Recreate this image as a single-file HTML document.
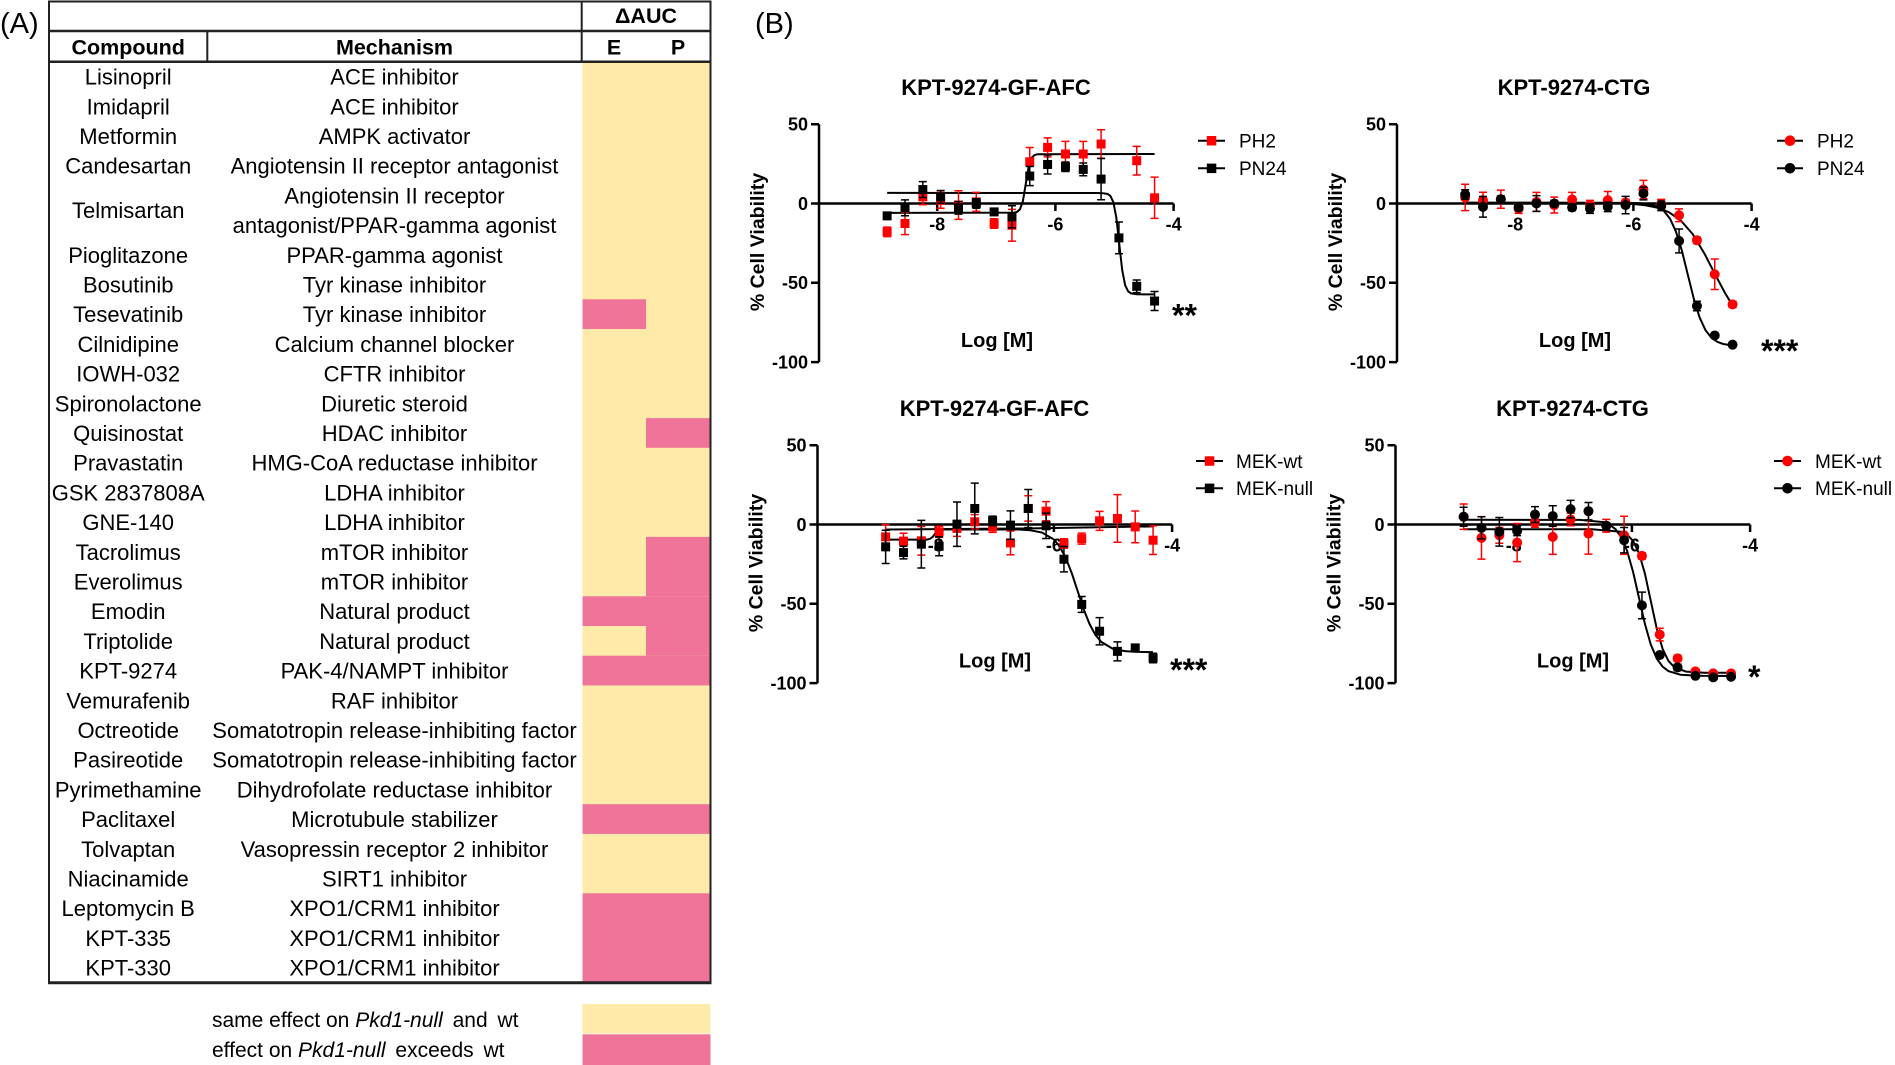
<!DOCTYPE html>
<html><head><meta charset="utf-8"><style>
html,body{margin:0;padding:0;background:#fff;}
svg{display:block;font-family:"Liberation Sans",Arial,sans-serif;}
.d path{vector-effect:non-scaling-stroke;fill:none;}
.d use{stroke:none;}
.cv{stroke:#000;stroke-width:2;stroke-linejoin:round;}
</style></head><body>
<svg width="1895" height="1065" viewBox="0 0 1895 1065" xmlns="http://www.w3.org/2000/svg">
<defs>
<rect id="sq" x="-0.0761" y="-2.84" width="0.1522" height="5.68"/>
<ellipse id="ci" rx="0.0846" ry="3.153"/>
</defs>

<!-- ================= PANEL A ================= -->
<text x="0" y="33" font-size="29">(A)</text>
<text x="755" y="33" font-size="29">(B)</text>

<rect x="582.5" y="61.7" width="127.5" height="920.7" fill="#FFEAAA"/>
<g fill="#F07399">
<rect x="582.5" y="299.3" width="63.5" height="29.7"/>
<rect x="646" y="418.1" width="64" height="29.7"/>
<rect x="646" y="536.9" width="64" height="59.4"/>
<rect x="582.5" y="596.3" width="127.5" height="29.7"/>
<rect x="646" y="626" width="64" height="29.7"/>
<rect x="582.5" y="655.7" width="127.5" height="29.7"/>
<rect x="582.5" y="804.2" width="127.5" height="29.7"/>
<rect x="582.5" y="893.3" width="127.5" height="89.1"/>
</g>

<g stroke="#222" fill="none">
<path d="M48 1.5H711" stroke-width="2"/>
<path d="M49 0.5V983.5M710.5 0.5V983.5" stroke-width="2"/>
<path d="M49 31H711M49 61.7H711" stroke-width="2.5"/>
<path d="M207.3 31V61.7M581.7 0.5V61.7" stroke-width="2"/>
<path d="M48 982.8H711.5" stroke-width="3"/>
</g>

<g font-size="21.5" font-weight="bold" text-anchor="middle">
<text x="646" y="23">ΔAUC</text>
<text x="128.2" y="54.5">Compound</text>
<text x="394.5" y="54.5">Mechanism</text>
<text x="614" y="54.5">E</text>
<text x="678" y="54.5">P</text>
</g>

<g font-size="22" text-anchor="middle">
<text x="128.2" y="84.6">Lisinopril</text><text x="394.5" y="84.6">ACE inhibitor</text>
<text x="128.2" y="114.3">Imidapril</text><text x="394.5" y="114.3">ACE inhibitor</text>
<text x="128.2" y="144">Metformin</text><text x="394.5" y="144">AMPK activator</text>
<text x="128.2" y="173.7">Candesartan</text><text x="394.5" y="173.7">Angiotensin II receptor antagonist</text>
<text x="128.2" y="218.2">Telmisartan</text><text x="394.5" y="203.4">Angiotensin II receptor</text><text x="394.5" y="233.1">antagonist/PPAR-gamma agonist</text>
<text x="128.2" y="262.8">Pioglitazone</text><text x="394.5" y="262.8">PPAR-gamma agonist</text>
<text x="128.2" y="292.5">Bosutinib</text><text x="394.5" y="292.5">Tyr kinase inhibitor</text>
<text x="128.2" y="322.2">Tesevatinib</text><text x="394.5" y="322.2">Tyr kinase inhibitor</text>
<text x="128.2" y="351.9">Cilnidipine</text><text x="394.5" y="351.9">Calcium channel blocker</text>
<text x="128.2" y="381.6">IOWH-032</text><text x="394.5" y="381.6">CFTR inhibitor</text>
<text x="128.2" y="411.3">Spironolactone</text><text x="394.5" y="411.3">Diuretic steroid</text>
<text x="128.2" y="441">Quisinostat</text><text x="394.5" y="441">HDAC inhibitor</text>
<text x="128.2" y="470.7">Pravastatin</text><text x="394.5" y="470.7">HMG-CoA reductase inhibitor</text>
<text x="128.2" y="500.4">GSK 2837808A</text><text x="394.5" y="500.4">LDHA inhibitor</text>
<text x="128.2" y="530.1">GNE-140</text><text x="394.5" y="530.1">LDHA inhibitor</text>
<text x="128.2" y="559.8">Tacrolimus</text><text x="394.5" y="559.8">mTOR inhibitor</text>
<text x="128.2" y="589.5">Everolimus</text><text x="394.5" y="589.5">mTOR inhibitor</text>
<text x="128.2" y="619.2">Emodin</text><text x="394.5" y="619.2">Natural product</text>
<text x="128.2" y="648.9">Triptolide</text><text x="394.5" y="648.9">Natural product</text>
<text x="128.2" y="678.6">KPT-9274</text><text x="394.5" y="678.6">PAK-4/NAMPT inhibitor</text>
<text x="128.2" y="708.3">Vemurafenib</text><text x="394.5" y="708.3">RAF inhibitor</text>
<text x="128.2" y="738">Octreotide</text><text x="394.5" y="738">Somatotropin release-inhibiting factor</text>
<text x="128.2" y="767.7">Pasireotide</text><text x="394.5" y="767.7">Somatotropin release-inhibiting factor</text>
<text x="128.2" y="797.4">Pyrimethamine</text><text x="394.5" y="797.4">Dihydrofolate reductase inhibitor</text>
<text x="128.2" y="827.1">Paclitaxel</text><text x="394.5" y="827.1">Microtubule stabilizer</text>
<text x="128.2" y="856.8">Tolvaptan</text><text x="394.5" y="856.8">Vasopressin receptor 2 inhibitor</text>
<text x="128.2" y="886.5">Niacinamide</text><text x="394.5" y="886.5">SIRT1 inhibitor</text>
<text x="128.2" y="916.2">Leptomycin B</text><text x="394.5" y="916.2">XPO1/CRM1 inhibitor</text>
<text x="128.2" y="945.9">KPT-335</text><text x="394.5" y="945.9">XPO1/CRM1 inhibitor</text>
<text x="128.2" y="975.6">KPT-330</text><text x="394.5" y="975.6">XPO1/CRM1 inhibitor</text>
</g>

<rect x="582.5" y="1004" width="128" height="29.5" fill="#FFEAAA"/>
<rect x="582.5" y="1034.3" width="128" height="30.7" fill="#F07399"/>
<g font-size="21">
<text x="212" y="1027">same effect on <tspan font-style="italic">Pkd1-null</tspan><tspan dx="4"> and</tspan><tspan dx="4"> wt</tspan></text>
<text x="212" y="1057">effect on <tspan font-style="italic">Pkd1-null</tspan><tspan dx="4"> exceeds</tspan><tspan dx="4"> wt</tspan></text>
</g>

<!-- ================= CHART 1 ================= -->
<g stroke="#000" stroke-width="2.5" fill="none">
<path d="M819 124.2V362.1M811 124.2H819M811 203.5H819M811 282.8H819M811 362.1H819M819 203.5H1173.6M937.2 203.5V211M1055.4 203.5V211M1173.6 203.5V211"/>
</g>
<g font-weight="bold" font-size="18" text-anchor="end">
<text x="808" y="130.5">50</text><text x="808" y="209.8">0</text><text x="808" y="289.1">-50</text><text x="808" y="368.4">-100</text>
</g>
<g font-weight="bold" font-size="18" text-anchor="middle">
<text x="937.2" y="230.5">-8</text><text x="1055.4" y="230.5">-6</text><text x="1173.6" y="230.5">-4</text>
</g>
<text x="996" y="95" font-size="22" font-weight="bold" text-anchor="middle">KPT-9274-GF-AFC</text>
<text transform="translate(757,242) rotate(-90)" dy="7" font-size="19.5" font-weight="bold" text-anchor="middle">% Cell Viability</text>
<text x="997" y="347" font-size="20" font-weight="bold" text-anchor="middle">Log [M]</text>
<text x="1172" y="326.4" font-size="32" font-weight="bold">**</text>

<g class="d" transform="translate(1410,203.5) scale(59.1,-1.586)">
<path class="cv" d="M-8.847,-5.9L-6.7,-5.75L-6.65,-5.32L-6.6,-3.7L-6.55,1.55L-6.5,12.65L-6.45,23.75L-6.4,29L-6.35,30.6L-6.3,31.05L-4.322,31.2"/>
<path class="cv" d="M-8.847,6.7L-5.3,6.6L-5.2,6.5L-5.12,6.07L-5.07,4.74L-5.02,0.88L-4.97,-8.67L-4.92,-25.3L-4.87,-41.92L-4.82,-51.48L-4.77,-55.34L-4.72,-56.67L-4.62,-57.24L-4.322,-57.3"/>
<g stroke="#f00" fill="#f00" stroke-width="1.5">
<g transform="translate(-8.847,-17.9)"><path d="M0-3V3M-.068-3H.068M-.068 3H.068"/><use href="#sq"/></g>
<g transform="translate(-8.545,-12.6)"><path d="M0-7V7M-.068-7H.068M-.068 7H.068"/><use href="#sq"/></g>
<g transform="translate(-8.243,4.2)"><path d="M0-5V5M-.068-5H.068M-.068 5H.068"/><use href="#sq"/></g>
<g transform="translate(-7.942,2)"><path d="M0-5V5M-.068-5H.068M-.068 5H.068"/><use href="#sq"/></g>
<g transform="translate(-7.640,-1)"><path d="M0-9V9M-.068-9H.068M-.068 9H.068"/><use href="#sq"/></g>
<g transform="translate(-7.339,1)"><path d="M0-6V6M-.068-6H.068M-.068 6H.068"/><use href="#sq"/></g>
<g transform="translate(-7.037,-12.6)"><path d="M0-3V3M-.068-3H.068M-.068 3H.068"/><use href="#sq"/></g>
<g transform="translate(-6.735,-13.7)"><path d="M0-10V10M-.068-10H.068M-.068 10H.068"/><use href="#sq"/></g>
<g transform="translate(-6.434,26.3)"><path d="M0-9V9M-.068-9H.068M-.068 9H.068"/><use href="#sq"/></g>
<g transform="translate(-6.132,35.4)"><path d="M0-6V6M-.068-6H.068M-.068 6H.068"/><use href="#sq"/></g>
<g transform="translate(-5.830,31.2)"><path d="M0-8V8M-.068-8H.068M-.068 8H.068"/><use href="#sq"/></g>
<g transform="translate(-5.529,31.2)"><path d="M0-8V8M-.068-8H.068M-.068 8H.068"/><use href="#sq"/></g>
<g transform="translate(-5.227,37.5)"><path d="M0-9V9M-.068-9H.068M-.068 9H.068"/><use href="#sq"/></g>
<g transform="translate(-4.624,27)"><path d="M0-9V9M-.068-9H.068M-.068 9H.068"/><use href="#sq"/></g>
<g transform="translate(-4.322,3.6)"><path d="M0-13V13M-.068-13H.068M-.068 13H.068"/><use href="#sq"/></g>
</g>
<g stroke="#000" fill="#000" stroke-width="1.5">
<g transform="translate(-8.847,-7.8)"><path d="M0-2V2M-.068-2H.068M-.068 2H.068"/><use href="#sq"/></g>
<g transform="translate(-8.545,-2.7)"><path d="M0-5V5M-.068-5H.068M-.068 5H.068"/><use href="#sq"/></g>
<g transform="translate(-8.243,8.8)"><path d="M0-5V5M-.068-5H.068M-.068 5H.068"/><use href="#sq"/></g>
<g transform="translate(-7.942,4.2)"><path d="M0-4V4M-.068-4H.068M-.068 4H.068"/><use href="#sq"/></g>
<g transform="translate(-7.640,-2.7)"><path d="M0-4V4M-.068-4H.068M-.068 4H.068"/><use href="#sq"/></g>
<g transform="translate(-7.339,0)"><path d="M0-3V3M-.068-3H.068M-.068 3H.068"/><use href="#sq"/></g>
<g transform="translate(-7.037,-5.3)"><path d="M0-2V2M-.068-2H.068M-.068 2H.068"/><use href="#sq"/></g>
<g transform="translate(-6.735,-8.4)"><path d="M0-7V7M-.068-7H.068M-.068 7H.068"/><use href="#sq"/></g>
<g transform="translate(-6.434,17.3)"><path d="M0-6V6M-.068-6H.068M-.068 6H.068"/><use href="#sq"/></g>
<g transform="translate(-6.132,24.6)"><path d="M0-6V6M-.068-6H.068M-.068 6H.068"/><use href="#sq"/></g>
<g transform="translate(-5.830,23.2)"><path d="M0-3V3M-.068-3H.068M-.068 3H.068"/><use href="#sq"/></g>
<g transform="translate(-5.529,21.5)"><path d="M0-4V4M-.068-4H.068M-.068 4H.068"/><use href="#sq"/></g>
<g transform="translate(-5.227,15.4)"><path d="M0-13V13M-.068-13H.068M-.068 13H.068"/><use href="#sq"/></g>
<g transform="translate(-4.925,-21.7)"><path d="M0-10V10M-.068-10H.068M-.068 10H.068"/><use href="#sq"/></g>
<g transform="translate(-4.624,-52.2)"><path d="M0-4V4M-.068-4H.068M-.068 4H.068"/><use href="#sq"/></g>
<g transform="translate(-4.322,-61.5)"><path d="M0-6V6M-.068-6H.068M-.068 6H.068"/><use href="#sq"/></g>
</g>
</g>

<path d="M1198 140.7H1225M1198 168.3H1225" stroke="#000" stroke-width="2"/>
<rect x="1206.8" y="136" width="9.5" height="9.5" fill="#f00"/>
<rect x="1206.8" y="163.6" width="9.5" height="9.5" fill="#000"/>
<text x="1239" y="147.5" font-size="19">PH2</text>
<text x="1239" y="175.1" font-size="19">PN24</text>

<!-- ================= CHART 2 ================= -->
<g stroke="#000" stroke-width="2.5" fill="none">
<path d="M1397 124.2V362.1M1389 124.2H1397M1389 203.5H1397M1389 282.8H1397M1389 362.1H1397M1397 203.5H1751.6M1515.2 203.5V211M1633.4 203.5V211M1751.6 203.5V211"/>
</g>
<g font-weight="bold" font-size="18" text-anchor="end">
<text x="1386" y="130.5">50</text><text x="1386" y="209.8">0</text><text x="1386" y="289.1">-50</text><text x="1386" y="368.4">-100</text>
</g>
<g font-weight="bold" font-size="18" text-anchor="middle">
<text x="1515.2" y="230.5">-8</text><text x="1633.4" y="230.5">-6</text><text x="1751.6" y="230.5">-4</text>
</g>
<text x="1574" y="95" font-size="22" font-weight="bold" text-anchor="middle">KPT-9274-CTG</text>
<text transform="translate(1335,242) rotate(-90)" dy="7" font-size="19.5" font-weight="bold" text-anchor="middle">% Cell Viability</text>
<text x="1575" y="347" font-size="20" font-weight="bold" text-anchor="middle">Log [M]</text>
<text x="1761" y="362" font-size="32" font-weight="bold">***</text>

<g class="d" transform="translate(1988,203.5) scale(59.1,-1.586)">
<path class="cv" d="M-8.847,0.5L-6.08,0.41L-5.88,0.14L-5.68,-0.91L-5.58,-2.27L-5.48,-4.87L-5.38,-9.62L-5.28,-17.67L-5.18,-29.71L-5.08,-44.75L-4.98,-59.78L-4.88,-71.83L-4.78,-79.88L-4.68,-84.63L-4.58,-87.22L-4.48,-88.59L-4.322,-89.53"/>
<path class="cv" d="M-8.847,0.5L-6.5,0.36L-6,-0.3L-5.8,-1.08L-5.6,-2.6L-5.4,-5.47L-5.2,-10.63L-5,-19.16L-4.8,-31.42L-4.6,-45.93L-4.45,-56.45L-4.322,-64.28"/>
<g stroke="#f00" fill="#f00" stroke-width="1.5">
<g transform="translate(-8.847,3.8)"><path d="M0-8.3V8.3M-.068-8.3H.068M-.068 8.3H.068"/><use href="#ci"/></g>
<g transform="translate(-8.545,2.1)"><path d="M0-5V5M-.068-5H.068M-.068 5H.068"/><use href="#ci"/></g>
<g transform="translate(-8.243,2.7)"><path d="M0-5.7V5.7M-.068-5.7H.068M-.068 5.7H.068"/><use href="#ci"/></g>
<g transform="translate(-7.942,-3.2)"><path d="M0-3V3M-.068-3H.068M-.068 3H.068"/><use href="#ci"/></g>
<g transform="translate(-7.640,1)"><path d="M0-6V6M-.068-6H.068M-.068 6H.068"/><use href="#ci"/></g>
<g transform="translate(-7.339,-1)"><path d="M0-5V5M-.068-5H.068M-.068 5H.068"/><use href="#ci"/></g>
<g transform="translate(-7.037,2.5)"><path d="M0-4.5V4.5M-.068-4.5H.068M-.068 4.5H.068"/><use href="#ci"/></g>
<g transform="translate(-6.735,-1)"><path d="M0-3V3M-.068-3H.068M-.068 3H.068"/><use href="#ci"/></g>
<g transform="translate(-6.434,2.1)"><path d="M0-5.5V5.5M-.068-5.5H.068M-.068 5.5H.068"/><use href="#ci"/></g>
<g transform="translate(-6.132,0.6)"><path d="M0-2V2M-.068-2H.068M-.068 2H.068"/><use href="#ci"/></g>
<g transform="translate(-5.830,8.8)"><path d="M0-5.8V5.8M-.068-5.8H.068M-.068 5.8H.068"/><use href="#ci"/></g>
<g transform="translate(-5.529,-0.4)"><path d="M0-3V3M-.068-3H.068M-.068 3H.068"/><use href="#ci"/></g>
<g transform="translate(-5.227,-7.4)"><path d="M0-4V4M-.068-4H.068M-.068 4H.068"/><use href="#ci"/></g>
<g transform="translate(-4.925,-23.2)"><path d="M0-2V2M-.068-2H.068M-.068 2H.068"/><use href="#ci"/></g>
<g transform="translate(-4.624,-44.6)"><path d="M0-9.6V9.6M-.068-9.6H.068M-.068 9.6H.068"/><use href="#ci"/></g>
<g transform="translate(-4.322,-63.6)"><path d="M0-2V2M-.068-2H.068M-.068 2H.068"/><use href="#ci"/></g>
</g>
<g stroke="#000" fill="#000" stroke-width="1.5">
<g transform="translate(-8.847,5.7)"><path d="M0-3V3M-.068-3H.068M-.068 3H.068"/><use href="#ci"/></g>
<g transform="translate(-8.545,-2.1)"><path d="M0-6.5V6.5M-.068-6.5H.068M-.068 6.5H.068"/><use href="#ci"/></g>
<g transform="translate(-8.243,2.7)"><path d="M0-2V2M-.068-2H.068M-.068 2H.068"/><use href="#ci"/></g>
<g transform="translate(-7.942,-2.5)"><path d="M0-2V2M-.068-2H.068M-.068 2H.068"/><use href="#ci"/></g>
<g transform="translate(-7.640,0)"><path d="M0-5V5M-.068-5H.068M-.068 5H.068"/><use href="#ci"/></g>
<g transform="translate(-7.339,0)"><path d="M0-2V2M-.068-2H.068M-.068 2H.068"/><use href="#ci"/></g>
<g transform="translate(-7.037,-2.5)"><path d="M0-2V2M-.068-2H.068M-.068 2H.068"/><use href="#ci"/></g>
<g transform="translate(-6.735,-3.2)"><path d="M0-3V3M-.068-3H.068M-.068 3H.068"/><use href="#ci"/></g>
<g transform="translate(-6.434,-2.1)"><path d="M0-3V3M-.068-3H.068M-.068 3H.068"/><use href="#ci"/></g>
<g transform="translate(-6.132,-1)"><path d="M0-5.5V5.5M-.068-5.5H.068M-.068 5.5H.068"/><use href="#ci"/></g>
<g transform="translate(-5.830,6.3)"><path d="M0-4V4M-.068-4H.068M-.068 4H.068"/><use href="#ci"/></g>
<g transform="translate(-5.529,-1.5)"><path d="M0-3V3M-.068-3H.068M-.068 3H.068"/><use href="#ci"/></g>
<g transform="translate(-5.227,-23.6)"><path d="M0-7.5V7.5M-.068-7.5H.068M-.068 7.5H.068"/><use href="#ci"/></g>
<g transform="translate(-4.925,-64.6)"><path d="M0-3V3M-.068-3H.068M-.068 3H.068"/><use href="#ci"/></g>
<g transform="translate(-4.624,-83.2)"><use href="#ci"/></g>
<g transform="translate(-4.322,-89)"><use href="#ci"/></g>
</g>
</g>

<path d="M1777 140.7H1803M1777 168.3H1803" stroke="#000" stroke-width="2"/>
<circle cx="1790" cy="140.7" r="5.3" fill="#f00"/>
<circle cx="1790" cy="168.3" r="5.3" fill="#000"/>
<text x="1817" y="147.5" font-size="19">PH2</text>
<text x="1817" y="175.1" font-size="19">PN24</text>

<!-- ================= CHART 3 ================= -->
<g stroke="#000" stroke-width="2.5" fill="none">
<path d="M817.5 445.2V683.1M809.5 445.2H817.5M809.5 524.5H817.5M809.5 603.8H817.5M809.5 683.1H817.5M817.5 524.5H1172.1M935.7 524.5V532M1053.9 524.5V532M1172.1 524.5V532"/>
</g>
<g font-weight="bold" font-size="18" text-anchor="end">
<text x="806.5" y="451.5">50</text><text x="806.5" y="530.8">0</text><text x="806.5" y="610.1">-50</text><text x="806.5" y="689.4">-100</text>
</g>
<g font-weight="bold" font-size="18" text-anchor="middle">
<text x="935.7" y="551.5">-8</text><text x="1053.9" y="551.5">-6</text><text x="1172.1" y="551.5">-4</text>
</g>
<text x="994.5" y="416" font-size="22" font-weight="bold" text-anchor="middle">KPT-9274-GF-AFC</text>
<text transform="translate(755.5,563) rotate(-90)" dy="7" font-size="19.5" font-weight="bold" text-anchor="middle">% Cell Viability</text>
<text x="995" y="667.5" font-size="20" font-weight="bold" text-anchor="middle">Log [M]</text>
<text x="1170" y="681" font-size="32" font-weight="bold">***</text>

<g class="d" transform="translate(1408.5,524.5) scale(59.1,-1.586)">
<path class="cv" d="M-8.847,-3.2L-6.5,-2.5L-4.322,-1.2"/>
<path class="cv" d="M-8.847,-9.5L-8.15,-9.5L-8.1,-9.11L-8.05,-7.8L-8,-5.17L-7.95,-3.53L-7.9,-3.1L-6.6,-3.19L-6.4,-3.64L-6.2,-5.08L-6,-9.48L-5.9,-14.03L-5.8,-20.98L-5.7,-30.48L-5.6,-41.75L-5.5,-53.02L-5.4,-62.52L-5.3,-69.47L-5.2,-74.02L-5,-78.42L-4.8,-79.86L-4.6,-80.31L-4.322,-80.46"/>
<g stroke="#f00" fill="#f00" stroke-width="1.5">
<g transform="translate(-8.847,-7.8)"><path d="M0-7.7V7.7M-.068-7.7H.068M-.068 7.7H.068"/><use href="#sq"/></g>
<g transform="translate(-8.545,-10.5)"><path d="M0-5V5M-.068-5H.068M-.068 5H.068"/><use href="#sq"/></g>
<g transform="translate(-8.243,-10.3)"><path d="M0-9V9M-.068-9H.068M-.068 9H.068"/><use href="#sq"/></g>
<g transform="translate(-7.942,-4.6)"><path d="M0-3.5V3.5M-.068-3.5H.068M-.068 3.5H.068"/><use href="#sq"/></g>
<g transform="translate(-7.640,-2.5)"><path d="M0-5V5M-.068-5H.068M-.068 5H.068"/><use href="#sq"/></g>
<g transform="translate(-7.339,1.7)"><path d="M0-4.5V4.5M-.068-4.5H.068M-.068 4.5H.068"/><use href="#sq"/></g>
<g transform="translate(-7.037,-1.5)"><path d="M0-3.5V3.5M-.068-3.5H.068M-.068 3.5H.068"/><use href="#sq"/></g>
<g transform="translate(-6.735,-11.6)"><path d="M0-7.5V7.5M-.068-7.5H.068M-.068 7.5H.068"/><use href="#sq"/></g>
<g transform="translate(-6.434,10.1)"><path d="M0-8V8M-.068-8H.068M-.068 8H.068"/><use href="#sq"/></g>
<g transform="translate(-6.132,8.4)"><path d="M0-6V6M-.068-6H.068M-.068 6H.068"/><use href="#sq"/></g>
<g transform="translate(-5.830,-12)"><path d="M0-3V3M-.068-3H.068M-.068 3H.068"/><use href="#sq"/></g>
<g transform="translate(-5.529,-8.9)"><path d="M0-3.5V3.5M-.068-3.5H.068M-.068 3.5H.068"/><use href="#sq"/></g>
<g transform="translate(-5.227,2.3)"><path d="M0-6V6M-.068-6H.068M-.068 6H.068"/><use href="#sq"/></g>
<g transform="translate(-4.925,3.8)"><path d="M0-15V15M-.068-15H.068M-.068 15H.068"/><use href="#sq"/></g>
<g transform="translate(-4.624,-1.5)"><path d="M0-10V10M-.068-10H.068M-.068 10H.068"/><use href="#sq"/></g>
<g transform="translate(-4.322,-9.9)"><path d="M0-9V9M-.068-9H.068M-.068 9H.068"/><use href="#sq"/></g>
</g>
<g stroke="#000" fill="#000" stroke-width="1.5">
<g transform="translate(-8.847,-14.1)"><path d="M0-10.5V10.5M-.068-10.5H.068M-.068 10.5H.068"/><use href="#sq"/></g>
<g transform="translate(-8.545,-17.7)"><path d="M0-4V4M-.068-4H.068M-.068 4H.068"/><use href="#sq"/></g>
<g transform="translate(-8.243,-12.4)"><path d="M0-15V15M-.068-15H.068M-.068 15H.068"/><use href="#sq"/></g>
<g transform="translate(-7.942,-13.7)"><path d="M0-6V6M-.068-6H.068M-.068 6H.068"/><use href="#sq"/></g>
<g transform="translate(-7.640,0.2)"><path d="M0-14V14M-.068-14H.068M-.068 14H.068"/><use href="#sq"/></g>
<g transform="translate(-7.339,10.1)"><path d="M0-16V16M-.068-16H.068M-.068 16H.068"/><use href="#sq"/></g>
<g transform="translate(-7.037,2.3)"><path d="M0-3V3M-.068-3H.068M-.068 3H.068"/><use href="#sq"/></g>
<g transform="translate(-6.735,-0.4)"><path d="M0-9V9M-.068-9H.068M-.068 9H.068"/><use href="#sq"/></g>
<g transform="translate(-6.434,10.1)"><path d="M0-12V12M-.068-12H.068M-.068 12H.068"/><use href="#sq"/></g>
<g transform="translate(-6.132,-0.8)"><path d="M0-8V8M-.068-8H.068M-.068 8H.068"/><use href="#sq"/></g>
<g transform="translate(-5.830,-21.9)"><path d="M0-8V8M-.068-8H.068M-.068 8H.068"/><use href="#sq"/></g>
<g transform="translate(-5.529,-50.4)"><path d="M0-5V5M-.068-5H.068M-.068 5H.068"/><use href="#sq"/></g>
<g transform="translate(-5.227,-67.3)"><path d="M0-8.6V8.6M-.068-8.6H.068M-.068 8.6H.068"/><use href="#sq"/></g>
<g transform="translate(-4.925,-80)"><path d="M0-6V6M-.068-6H.068M-.068 6H.068"/><use href="#sq"/></g>
<g transform="translate(-4.624,-77.8)"><path d="M0-2V2M-.068-2H.068M-.068 2H.068"/><use href="#sq"/></g>
<g transform="translate(-4.322,-84.2)"><path d="M0-3V3M-.068-3H.068M-.068 3H.068"/><use href="#sq"/></g>
</g>
</g>

<path d="M1196 461H1223M1196 488.3H1223" stroke="#000" stroke-width="2"/>
<rect x="1204.8" y="456.3" width="9.5" height="9.5" fill="#f00"/>
<rect x="1204.8" y="483.6" width="9.5" height="9.5" fill="#000"/>
<text x="1236" y="467.8" font-size="19">MEK-wt</text>
<text x="1236" y="495.1" font-size="19">MEK-null</text>

<!-- ================= CHART 4 ================= -->
<g stroke="#000" stroke-width="2.5" fill="none">
<path d="M1395.5 445.2V683.1M1387.5 445.2H1395.5M1387.5 524.5H1395.5M1387.5 603.8H1395.5M1387.5 683.1H1395.5M1395.5 524.5H1750.1M1513.7 524.5V532M1631.9 524.5V532M1750.1 524.5V532"/>
</g>
<g font-weight="bold" font-size="18" text-anchor="end">
<text x="1384.5" y="451.5">50</text><text x="1384.5" y="530.8">0</text><text x="1384.5" y="610.1">-50</text><text x="1384.5" y="689.4">-100</text>
</g>
<g font-weight="bold" font-size="18" text-anchor="middle">
<text x="1513.7" y="551.5">-8</text><text x="1631.9" y="551.5">-6</text><text x="1750.1" y="551.5">-4</text>
</g>
<text x="1572.5" y="416" font-size="22" font-weight="bold" text-anchor="middle">KPT-9274-CTG</text>
<text transform="translate(1333.5,563) rotate(-90)" dy="7" font-size="19.5" font-weight="bold" text-anchor="middle">% Cell Viability</text>
<text x="1573" y="667.5" font-size="20" font-weight="bold" text-anchor="middle">Log [M]</text>
<text x="1748" y="688" font-size="32" font-weight="bold">*</text>

<g class="d" transform="translate(1986.5,524.5) scale(59.1,-1.586)">
<path class="cv" d="M-8.847,3L-6.88,2.9L-6.48,1.47L-6.38,-0.02L-6.28,-2.85L-6.18,-8.01L-6.08,-16.78L-5.98,-29.88L-5.88,-46.25L-5.78,-62.61L-5.68,-75.72L-5.58,-84.48L-5.48,-89.65L-5.38,-92.48L-5.18,-94.72L-4.88,-95.4L-4.322,-95.5"/>
<path class="cv" d="M-8.847,-3L-6.68,-3.03L-6.18,-4.58L-6.08,-6.46L-5.98,-10.4L-5.88,-18.05L-5.78,-30.94L-5.68,-48.25L-5.58,-65.56L-5.48,-78.44L-5.38,-86.09L-5.28,-90.03L-5.08,-92.79L-4.78,-93.44L-4.322,-93.5"/>
<g stroke="#f00" fill="#f00" stroke-width="1.5">
<g transform="translate(-8.847,4.9)"><path d="M0-8V8M-.068-8H.068M-.068 8H.068"/><use href="#ci"/></g>
<g transform="translate(-8.545,-8.4)"><path d="M0-13.4V13.4M-.068-13.4H.068M-.068 13.4H.068"/><use href="#ci"/></g>
<g transform="translate(-8.243,-6.8)"><path d="M0-5V5M-.068-5H.068M-.068 5H.068"/><use href="#ci"/></g>
<g transform="translate(-7.942,-11.4)"><path d="M0-12V12M-.068-12H.068M-.068 12H.068"/><use href="#ci"/></g>
<g transform="translate(-7.640,1.3)"><path d="M0-3V3M-.068-3H.068M-.068 3H.068"/><use href="#ci"/></g>
<g transform="translate(-7.339,-7.8)"><path d="M0-11V11M-.068-11H.068M-.068 11H.068"/><use href="#ci"/></g>
<g transform="translate(-7.037,3.2)"><path d="M0-4V4M-.068-4H.068M-.068 4H.068"/><use href="#ci"/></g>
<g transform="translate(-6.735,-5.7)"><path d="M0-13V13M-.068-13H.068M-.068 13H.068"/><use href="#ci"/></g>
<g transform="translate(-6.434,-0.8)"><path d="M0-4V4M-.068-4H.068M-.068 4H.068"/><use href="#ci"/></g>
<g transform="translate(-6.132,-6.8)"><path d="M0-12V12M-.068-12H.068M-.068 12H.068"/><use href="#ci"/></g>
<g transform="translate(-5.830,-19.8)"><path d="M0-2V2M-.068-2H.068M-.068 2H.068"/><use href="#ci"/></g>
<g transform="translate(-5.529,-69.4)"><path d="M0-4V4M-.068-4H.068M-.068 4H.068"/><use href="#ci"/></g>
<g transform="translate(-5.227,-84.4)"><path d="M0-2V2M-.068-2H.068M-.068 2H.068"/><use href="#ci"/></g>
<g transform="translate(-4.925,-92.6)"><use href="#ci"/></g>
<g transform="translate(-4.624,-93.9)"><use href="#ci"/></g>
<g transform="translate(-4.322,-93.9)"><use href="#ci"/></g>
</g>
<g stroke="#000" fill="#000" stroke-width="1.5">
<g transform="translate(-8.847,4.9)"><path d="M0-6V6M-.068-6H.068M-.068 6H.068"/><use href="#ci"/></g>
<g transform="translate(-8.545,-2.1)"><path d="M0-7V7M-.068-7H.068M-.068 7H.068"/><use href="#ci"/></g>
<g transform="translate(-8.243,-4.6)"><path d="M0-9V9M-.068-9H.068M-.068 9H.068"/><use href="#ci"/></g>
<g transform="translate(-7.942,-4)"><path d="M0-3V3M-.068-3H.068M-.068 3H.068"/><use href="#ci"/></g>
<g transform="translate(-7.640,6.3)"><path d="M0-5V5M-.068-5H.068M-.068 5H.068"/><use href="#ci"/></g>
<g transform="translate(-7.339,5.3)"><path d="M0-6.5V6.5M-.068-6.5H.068M-.068 6.5H.068"/><use href="#ci"/></g>
<g transform="translate(-7.037,9.7)"><path d="M0-5.5V5.5M-.068-5.5H.068M-.068 5.5H.068"/><use href="#ci"/></g>
<g transform="translate(-6.735,8.4)"><path d="M0-5.5V5.5M-.068-5.5H.068M-.068 5.5H.068"/><use href="#ci"/></g>
<g transform="translate(-6.434,-0.8)"><path d="M0-2V2M-.068-2H.068M-.068 2H.068"/><use href="#ci"/></g>
<g transform="translate(-6.132,-9.9)"><path d="M0-8V8M-.068-8H.068M-.068 8H.068"/><use href="#ci"/></g>
<g transform="translate(-5.830,-51)"><path d="M0-8.4V8.4M-.068-8.4H.068M-.068 8.4H.068"/><use href="#ci"/></g>
<g transform="translate(-5.529,-82.3)"><use href="#ci"/></g>
<g transform="translate(-5.227,-90.1)"><path d="M0-2V2M-.068-2H.068M-.068 2H.068"/><use href="#ci"/></g>
<g transform="translate(-4.925,-95.4)"><use href="#ci"/></g>
<g transform="translate(-4.624,-96.4)"><use href="#ci"/></g>
<g transform="translate(-4.322,-96)"><use href="#ci"/></g>
</g>
</g>

<path d="M1774 461H1801M1774 488.3H1801" stroke="#000" stroke-width="2"/>
<circle cx="1787.5" cy="461" r="5.3" fill="#f00"/>
<circle cx="1787.5" cy="488.3" r="5.3" fill="#000"/>
<text x="1815" y="467.8" font-size="19">MEK-wt</text>
<text x="1815" y="495.1" font-size="19">MEK-null</text>

</svg>
</body></html>
